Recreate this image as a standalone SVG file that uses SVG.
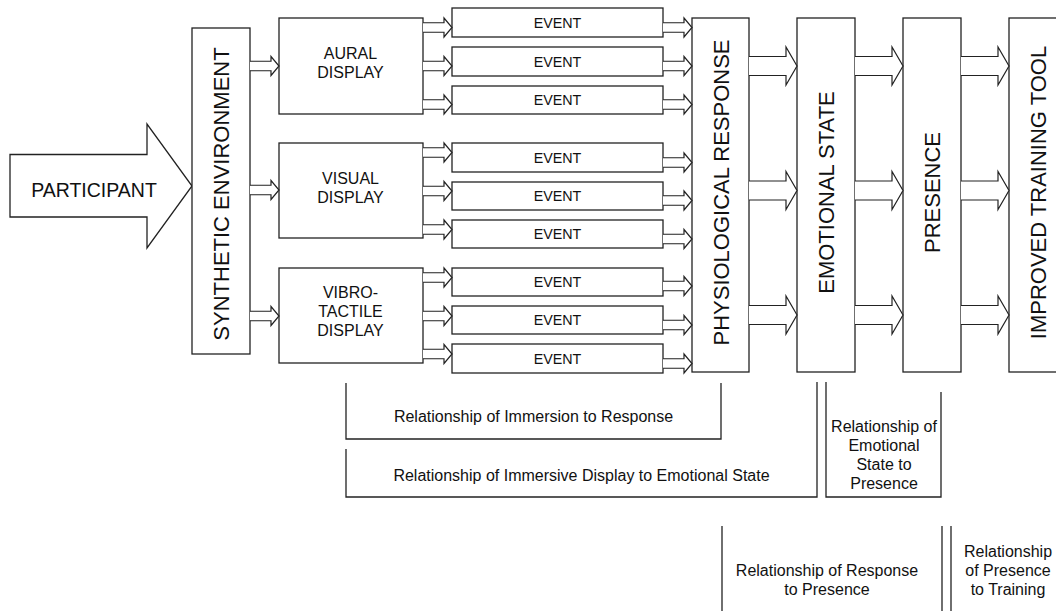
<svg xmlns="http://www.w3.org/2000/svg" width="1056" height="611" viewBox="0 0 1056 611">
<style>
.box{fill:#fff;stroke:#222;stroke-width:1.3}
.ln{fill:none;stroke:#222;stroke-width:1.3}
.ar{fill:#fff;stroke:#222;stroke-width:1.2;stroke-linejoin:miter}
.t{font-family:"Liberation Sans",Arial,sans-serif;fill:#111;text-anchor:middle}
.v{font-size:22px}
.d{font-size:16px}
.e{font-size:14.3px}
.r{font-size:16px}
</style>
<defs>
<path id="sa" d="M0,-4.75 H21 V-9.5 L29,0 L21,9.5 V4.75 H0"/>
<path id="ba" d="M0,-9.5 H37 V-19 L48,0 L37,19 V9.5 H0"/>
</defs>
<rect width="1056" height="611" fill="#fff"/>

<g id="participant">
<polygon class="box" points="10,154.5 147,154.5 147,124 192,186 147,248 147,217 10,217"/>
<text class="t" x="94" y="196.5" font-size="19.5">PARTICIPANT</text>
</g>

<g id="synthetic-environment">
<rect class="box" x="192" y="28" width="58" height="326"/>
<text class="t v" transform="translate(221,194) rotate(-90)" y="8">SYNTHETIC ENVIRONMENT</text>
</g>

<g id="aural-display">
<rect class="box" x="279" y="18" width="144" height="96"/>
<text class="t d" x="350.5" y="59">AURAL</text>
<text class="t d" x="350.5" y="77.5">DISPLAY</text>
</g>
<g id="visual-display">
<rect class="box" x="279" y="143" width="144" height="95"/>
<text class="t d" x="350.5" y="184">VISUAL</text>
<text class="t d" x="350.5" y="203">DISPLAY</text>
</g>
<g id="vibrotactile-display">
<rect class="box" x="279" y="268" width="144" height="95"/>
<text class="t d" x="350.5" y="298">VIBRO-</text>
<text class="t d" x="350.5" y="317">TACTILE</text>
<text class="t d" x="350.5" y="336">DISPLAY</text>
</g>

<g id="event-1"><rect class="box" x="452" y="8" width="211" height="29"/><text class="t e" x="557.5" y="27.5">EVENT</text></g>
<g id="event-2"><rect class="box" x="452" y="47" width="211" height="29"/><text class="t e" x="557.5" y="66.5">EVENT</text></g>
<g id="event-3"><rect class="box" x="452" y="86" width="211" height="28"/><text class="t e" x="557.5" y="105">EVENT</text></g>
<g id="event-4"><rect class="box" x="452" y="143" width="211" height="29"/><text class="t e" x="557.5" y="162.5">EVENT</text></g>
<g id="event-5"><rect class="box" x="452" y="182" width="211" height="28"/><text class="t e" x="557.5" y="201">EVENT</text></g>
<g id="event-6"><rect class="box" x="452" y="220" width="211" height="28"/><text class="t e" x="557.5" y="239">EVENT</text></g>
<g id="event-7"><rect class="box" x="452" y="268" width="211" height="28"/><text class="t e" x="557.5" y="287">EVENT</text></g>
<g id="event-8"><rect class="box" x="452" y="306" width="211" height="28"/><text class="t e" x="557.5" y="325">EVENT</text></g>
<g id="event-9"><rect class="box" x="452" y="344" width="211" height="29"/><text class="t e" x="557.5" y="363.5">EVENT</text></g>

<g id="physiological-response">
<rect class="box" x="692" y="18" width="57" height="354"/>
<text class="t v" transform="translate(721,192.5) rotate(-90)" y="8">PHYSIOLOGICAL RESPONSE</text>
</g>
<g id="emotional-state">
<rect class="box" x="797" y="18" width="58" height="354"/>
<text class="t v" transform="translate(826,192.5) rotate(-90)" y="8">EMOTIONAL STATE</text>
</g>
<g id="presence">
<rect class="box" x="903" y="18" width="58" height="354"/>
<text class="t v" transform="translate(932,192.5) rotate(-90)" y="8">PRESENCE</text>
</g>
<g id="improved-training-tool">
<rect class="box" x="1009" y="18" width="58" height="354"/>
<text class="t v" transform="translate(1037.5,192.5) rotate(-90)" y="8">IMPROVED TRAINING TOOL</text>
</g>

<g id="connectors" class="ar">
<use href="#sa" x="250" y="66"/>
<use href="#sa" x="250" y="190"/>
<use href="#sa" x="250" y="316"/>

<use href="#sa" x="423" y="27.5"/>
<use href="#sa" x="423" y="66"/>
<use href="#sa" x="423" y="104.5"/>
<use href="#sa" x="423" y="152.5"/>
<use href="#sa" x="423" y="191"/>
<use href="#sa" x="423" y="229.5"/>
<use href="#sa" x="423" y="277.5"/>
<use href="#sa" x="423" y="316"/>
<use href="#sa" x="423" y="354"/>

<use href="#sa" x="663" y="27.5"/>
<use href="#sa" x="663" y="66"/>
<use href="#sa" x="663" y="104.5"/>
<use href="#sa" x="663" y="162.5"/>
<use href="#sa" x="663" y="200.5"/>
<use href="#sa" x="663" y="239"/>
<use href="#sa" x="663" y="286"/>
<use href="#sa" x="663" y="325"/>
<use href="#sa" x="663" y="363.5"/>

<use href="#ba" x="749" y="66"/>
<use href="#ba" x="749" y="190.5"/>
<use href="#ba" x="749" y="315"/>
<use href="#ba" x="855" y="66"/>
<use href="#ba" x="855" y="190.5"/>
<use href="#ba" x="855" y="315"/>
<use href="#ba" x="961" y="66"/>
<use href="#ba" x="961" y="190.5"/>
<use href="#ba" x="961" y="315"/>
</g>

<g id="rel-immersion-response">
<polyline class="ln" points="346,383 346,439 721,439 721,383"/>
<text class="t r" x="533.5" y="422">Relationship of Immersion to Response</text>
</g>
<g id="rel-display-emotional">
<polyline class="ln" points="346,449 346,497 817,497 817,382"/>
<text class="t r" x="581.5" y="481">Relationship of Immersive Display to Emotional State</text>
</g>
<g id="rel-emotional-presence">
<polyline class="ln" points="826,382 826,497 941,497 941,392"/>
<text class="t r" x="884" y="432">Relationship of</text>
<text class="t r" x="884" y="451">Emotional</text>
<text class="t r" x="884" y="470">State to</text>
<text class="t r" x="884" y="489">Presence</text>
</g>
<g id="rel-response-presence">
<line class="ln" x1="722" y1="526" x2="722" y2="611"/>
<line class="ln" x1="942" y1="526" x2="942" y2="611"/>
<text class="t r" x="827" y="576">Relationship of Response</text>
<text class="t r" x="827" y="595">to Presence</text>
</g>
<g id="rel-presence-training">
<line class="ln" x1="951" y1="526" x2="951" y2="611"/>
<text class="t r" x="1008" y="557">Relationship</text>
<text class="t r" x="1008" y="576">of Presence</text>
<text class="t r" x="1008" y="595">to Training</text>
</g>
</svg>
